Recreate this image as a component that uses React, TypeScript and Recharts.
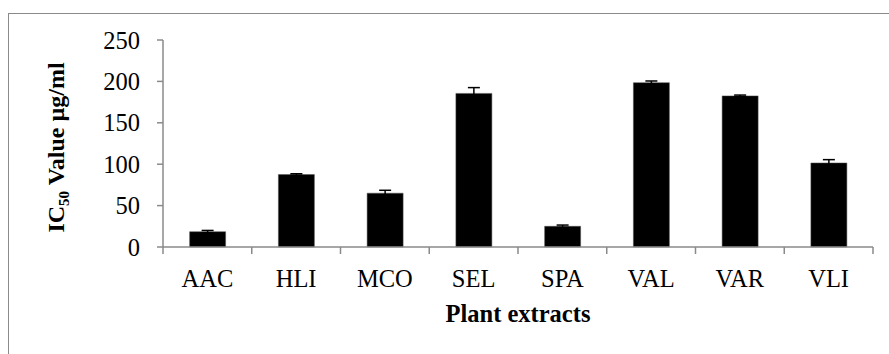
import React from 'react'
import { BarChart, Bar, XAxis, YAxis, ErrorBar, Label } from 'recharts'

const extracts = ['AAC', 'HLI', 'MCO', 'SEL', 'SPA', 'VAL', 'VAR', 'VLI']
const ic50 = [18.5, 87.5, 65, 185.5, 25, 198.5, 182.5, 101.5]
const sd = [1.5, 1, 3.5, 7, 1.5, 2, 1, 4]
const yTicks = [0, 50, 100, 150, 200, 250]

const data = extracts.map((name, i) => ({ name, value: ic50[i], err: sd[i] }))

const axisGray = '#8a8a8a'
const serif = '"Liberation Serif", "Times New Roman", serif'

// category tick: label in the middle, tick mark on the band edges (Excel style)
const EdgeTick = (props: any) => {
  const { x, y, payload, index, visibleTicksCount } = props
  const half = payload.offset || 0
  const axisY = y - 23
  return (
    <g>
      <line x1={x - half} x2={x - half} y1={axisY} y2={axisY + 7} stroke={axisGray} strokeWidth={1.5} />
      {index === visibleTicksCount - 1 && (
        <line x1={x + half} x2={x + half} y1={axisY} y2={axisY + 7} stroke={axisGray} strokeWidth={1.5} />
      )}
      <text x={x} y={y} dy="0.71em" textAnchor="middle" fill="#000" fontSize={24.5} fontFamily={serif}>
        {payload.value}
      </text>
    </g>
  )
}

const YTitle = (props: any) => {
  const { viewBox } = props
  const cx = viewBox.x + 24
  const cy = viewBox.y + viewBox.height / 2 + 4
  return (
    <text
      x={cx}
      y={cy}
      transform={`rotate(-90, ${cx}, ${cy})`}
      textAnchor="middle"
      fontFamily={serif}
      fontWeight="bold"
      fontSize={24}
      fill="#000"
    >
      IC
      <tspan fontSize={15} dy={5}>50</tspan>
      <tspan dy={-5}> Value µg/ml</tspan>
    </text>
  )
}

const App = () => {
  return (
    <div style={{ position: 'absolute', left: 0, top: 0, width: 889, height: 354, overflow: 'hidden', background: '#fff' }}>
      <div
        style={{
          position: 'absolute',
          left: 8,
          top: 13,
          width: 940,
          height: 400,
          border: `1.5px solid ${axisGray}`,
          boxSizing: 'border-box',
        }}
      />
      <div style={{ position: 'absolute', left: 0, top: 0 }}>
        <BarChart
          width={889}
          height={354}
          data={data}
          margin={{ top: 40, right: 16, bottom: 0, left: 40 }}
          barCategoryGap="30%"
        >
          <XAxis
            dataKey="name"
            height={107}
            interval={0}
            axisLine={{ stroke: axisGray, strokeWidth: 1.5 }}
            tickLine={false}
            tickSize={0}
            tickMargin={23}
            tick={<EdgeTick />}
          >
            <Label
              value="Plant extracts"
              position="insideBottom"
              offset={32}
              style={{ fontFamily: serif, fontWeight: 'bold', fontSize: 24.5, fill: '#000' }}
            />
          </XAxis>
          <YAxis
            width={123}
            domain={[0, 250]}
            ticks={yTicks}
            interval={0}
            axisLine={{ stroke: axisGray, strokeWidth: 1.5 }}
            tickLine={{ stroke: axisGray, strokeWidth: 1.5 }}
            tickSize={6}
            tickMargin={17}
            tick={{ fill: '#000', fontSize: 24.5, fontFamily: serif }}
          >
            <Label content={<YTitle />} />
          </YAxis>
          <Bar dataKey="value" fill="#000" stroke="#555" strokeWidth={0.5} isAnimationActive={false}>
            <ErrorBar dataKey="err" direction="y" width={6} stroke="#000" strokeWidth={1.5} />
          </Bar>
        </BarChart>
      </div>
    </div>
  )
}

export default App
